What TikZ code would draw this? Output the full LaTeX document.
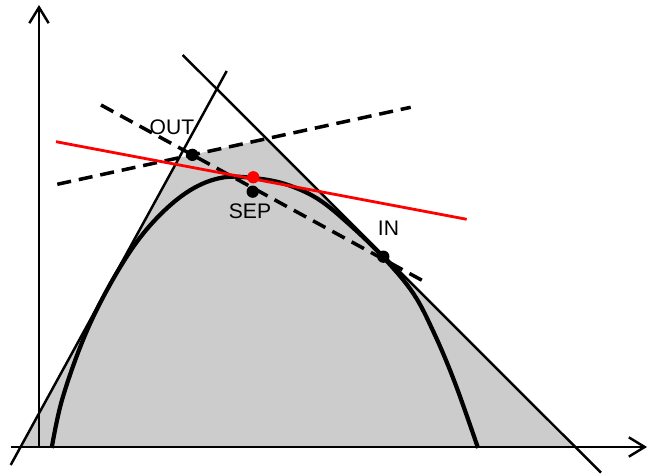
\documentclass[tikz,border=0pt]{standalone}
\usepackage{fontspec}
\setmainfont{Liberation Sans}
\usetikzlibrary{arrows.meta, calc}
\definecolor{FeasGray}{RGB}{204,204,204}
\definecolor{CutRed}{RGB}{255,0,0}
\tikzset{
  >={Straight Barb[length=9pt,width=11pt]},
  % assi e vincoli
  axis/.style={->,line width=1.4pt},
  bound/.style={line width=1.4pt},
  % tagli
  cut/.style={line width=2pt,dash pattern=on 8pt off 4.5pt},
  sepline/.style={line width=1.6pt,CutRed},
  curve/.style={line width=2.4pt},
  % punti
  pt/.style={circle,fill=black,inner sep=0pt,minimum size=7pt},
  lbl/.style={font=\fontsize{12}{14}\selectfont,inner sep=0pt}
}

\begin{document}
\begin{tikzpicture}
    \useasboundingbox (0,0) rectangle (12.96,9.48);
    % estremi delle rette
    \coordinate (X1) at (0.22,0.54);
    \coordinate (X2) at (12.94,0.54);
    \coordinate (O) at (0.78,0.54);
    \coordinate (Y) at (0.78,9.38);
    \coordinate (L1) at (0.214,0.18);
    \coordinate (L2) at (4.534,8.06);
    \coordinate (R1) at (3.654,8.38);
    \coordinate (R2) at (12.02,0.026);
    \coordinate (U1) at (1.146,5.794);
    \coordinate (U2) at (8.214,7.334);
    \coordinate (D1) at (2.02,7.38);
    \coordinate (D2) at (8.454,3.866);
    \coordinate (S1) at (1.12,6.646);
    \coordinate (S2) at (9.334,5.094);
    % regione
    \fill[FeasGray] (intersection of L1--L2 and X1--X2)
        -- (intersection of L1--L2 and U1--U2)
        -- (intersection of U1--U2 and R1--R2)
        -- (intersection of R1--R2 and X1--X2) -- cycle;
    \draw[axis] (X1) -- (X2);
    \draw[axis] (O) -- (Y);
    \draw[bound] (L1) -- (L2);
    \draw[bound] (R1) -- (R2);
    \draw[curve] plot[smooth,tension=0.6] coordinates {(1.034,0.52) (1.24,1.48) (1.66,2.68) (2.14,3.68) (2.72,4.62) (3.30,5.28) (3.88,5.72) (4.46,5.93) (5.06,5.92) (5.70,5.80) (6.36,5.50) (7.00,4.98) (7.66,4.34) (8.26,3.62) (8.68,2.82) (9.10,1.82) (9.56,0.52)};
    \draw[cut] (U1) -- (U2);
    \draw[cut] (D1) -- (D2);
    \draw[sepline] (S1) -- (S2);
    \node[pt] (out) at (intersection of U1--U2 and D1--D2) {};
    \node[pt] (sep) at (5.054,5.646) {};
    \node[pt] (in) at (7.666,4.346) {};
    \node[pt,fill=CutRed] (tang) at (5.066,5.934) {};
    \node[lbl] (outlbl) at (3.44,6.94) {OUT};
    \node[lbl] (seplbl) at (5.0,5.26) {SEP};
    \node[lbl] (inlbl) at (7.77,4.91) {IN};
\end{tikzpicture}
\end{document}
